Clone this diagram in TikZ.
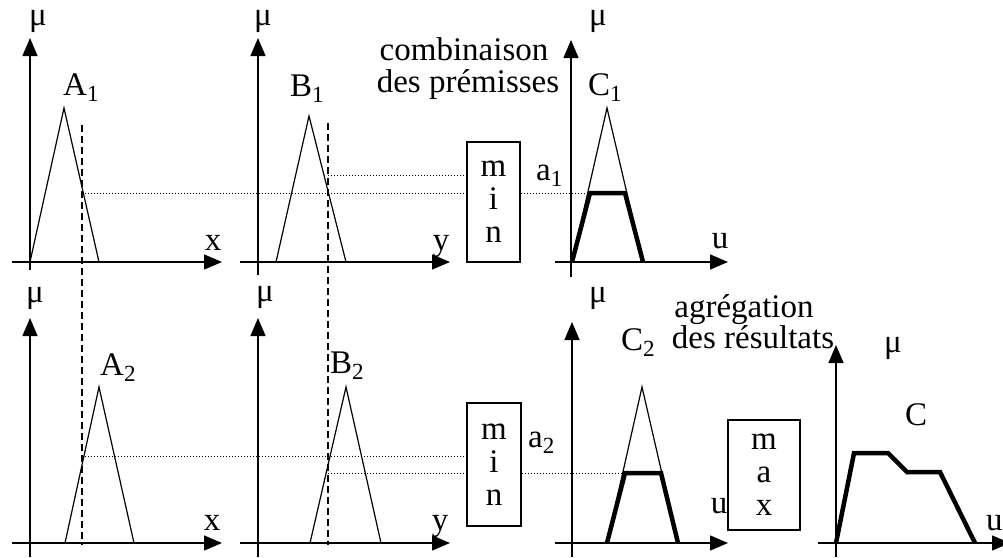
\documentclass[tikz,border=0pt]{standalone}
\usepackage{fontspec}
\setmainfont{Liberation Serif}
\usetikzlibrary{arrows.meta}

\begin{document}
\begin{tikzpicture}[x=1pt,y=-1pt,
    axis/.style={line width=1.4pt,-{Triangle[length=18pt,width=15pt]}},
    memb/.style={line width=1.2pt},
    cut/.style={line width=4.5pt,line join=miter},
    guide/.style={line width=1.6pt,dash pattern=on 7pt off 4pt},
    level/.style={line width=1pt,dotted},
    opbox/.style={draw,line width=1.2pt,align=center},
    every node/.style={font=\fontsize{33}{33}\selectfont,inner sep=0pt}]
            \useasboundingbox (0,0) rectangle (1003,557);
            % axes: origin x, origin y, x from, x to, y from, y to
            \foreach \ox/\oy/\xl/\xr/\yb/\yt in {30/262/12/222/270/38, 258/262/240/450/275/38, 571/262/555/728/277/40, 30/543/12/222/557/318, 258/543/240/450/557/318, 572/543/555/728/557/322, 836/543/818/1010/557/345} {
                \draw[axis] (\xl,\oy) -- (\xr,\oy);
                \draw[axis] (\ox,\yb) -- (\ox,\yt);
            }
            \foreach \p/\n in {{(38,25)}/muA1,{(263,25)}/muB1,{(598,25)}/muC1,{(35,302)}/muA2,{(265,301)}/muB2,{(598,302)}/muC2,{(893,352)}/muC} {
                \node[anchor=base] (\n) at \p {μ};
            }
            \node[anchor=base] (xA1) at (213,250) {x};
            \node[anchor=base] (yB1) at (441,250) {y};
            \node[anchor=base] (uC1) at (720,248) {u};
            \node[anchor=base] (xA2) at (212,530) {x};
            \node[anchor=base] (yB2) at (440,530) {y};
            \node[anchor=base] (uC2) at (719,513) {u};
            \node[anchor=base west] (uC) at (986,530) {u};
            % fuzzy sets
            \draw[memb] (30,262) -- (64,108) -- (99,262);
            \draw[memb] (276,262) -- (309,116) -- (346,262);
            \draw[memb] (572,262) -- (607,108) -- (643,262);
            \draw[memb] (65,543) -- (99,387) -- (134,543);
            \draw[memb] (310,543) -- (346,387) -- (381,543);
            \draw[memb] (607,543) -- (642,387) -- (678,543);
            \node[anchor=base west] (A1) at (63,95) {A\textsubscript{1}};
            \node[anchor=base west] (B1) at (290,96) {B\textsubscript{1}};
            \node[anchor=base west] (C1) at (588,95) {C\textsubscript{1}};
            \node[anchor=base west] (A2) at (100,375) {A\textsubscript{2}};
            \node[anchor=base west] (B2) at (330,373) {B\textsubscript{2}};
            \node[anchor=base west] (C2) at (621,350) {C\textsubscript{2}};
            \node[anchor=base west] (C) at (905,425) {C};
            % operators
            \node[opbox,minimum width=53,minimum height=120] (min1) at (493.5,202) {m\\i\\n};
            \node[opbox,minimum width=54,minimum height=123] (min2) at (494,464.5) {m\\i\\n};
            \node[opbox,minimum width=72,minimum height=110] (max) at (764,475) {m\\a\\x};
            \node[anchor=base west] (a1) at (536,180) {a\textsubscript{1}};
            \node[anchor=base west] (a2) at (528,447) {a\textsubscript{2}};
            \node[anchor=base] (comb1) at (464,60) {combinaison};
            \node[anchor=base] (comb2) at (468,92) {des prémisses};
            \node[anchor=base] (agr1) at (744,317) {agrégation};
            \node[anchor=base] (agr2) at (753,348) {des résultats};
            % inputs and levels
            \draw[guide] (82,125) -- (82,545);
            \draw[guide] (328,123) -- (328,545);
            \coordinate (xa1) at (82,193);
            \coordinate (yb1) at (328,175);
            \coordinate (top1) at (590,193);
            \coordinate (xa2) at (82,456);
            \coordinate (yb2) at (328,473);
            \coordinate (top2) at (625,473);
            \draw[level] (xa1) -- (xa1 -| min1.west);
            \draw[level] (yb1) -- (yb1 -| min1.west);
            \draw[level] (top1 -| min1.east) -- (top1);
            \draw[level] (xa2) -- (xa2 -| min2.west);
            \draw[level] (yb2) -- (yb2 -| min2.west);
            \draw[level] (top2 -| min2.east) -- (top2);
            % truncated conclusions
            \draw[cut] (572,262) -- (top1) -- (625,193) -- (643,262);
            \draw[cut] (607,543) -- (top2) -- (661,473) -- (678,543);
            \draw[cut] (836,543) -- (854,453) -- (888,453) -- (907,472) -- (940,472) -- (975,543);
\end{tikzpicture}
\end{document}
